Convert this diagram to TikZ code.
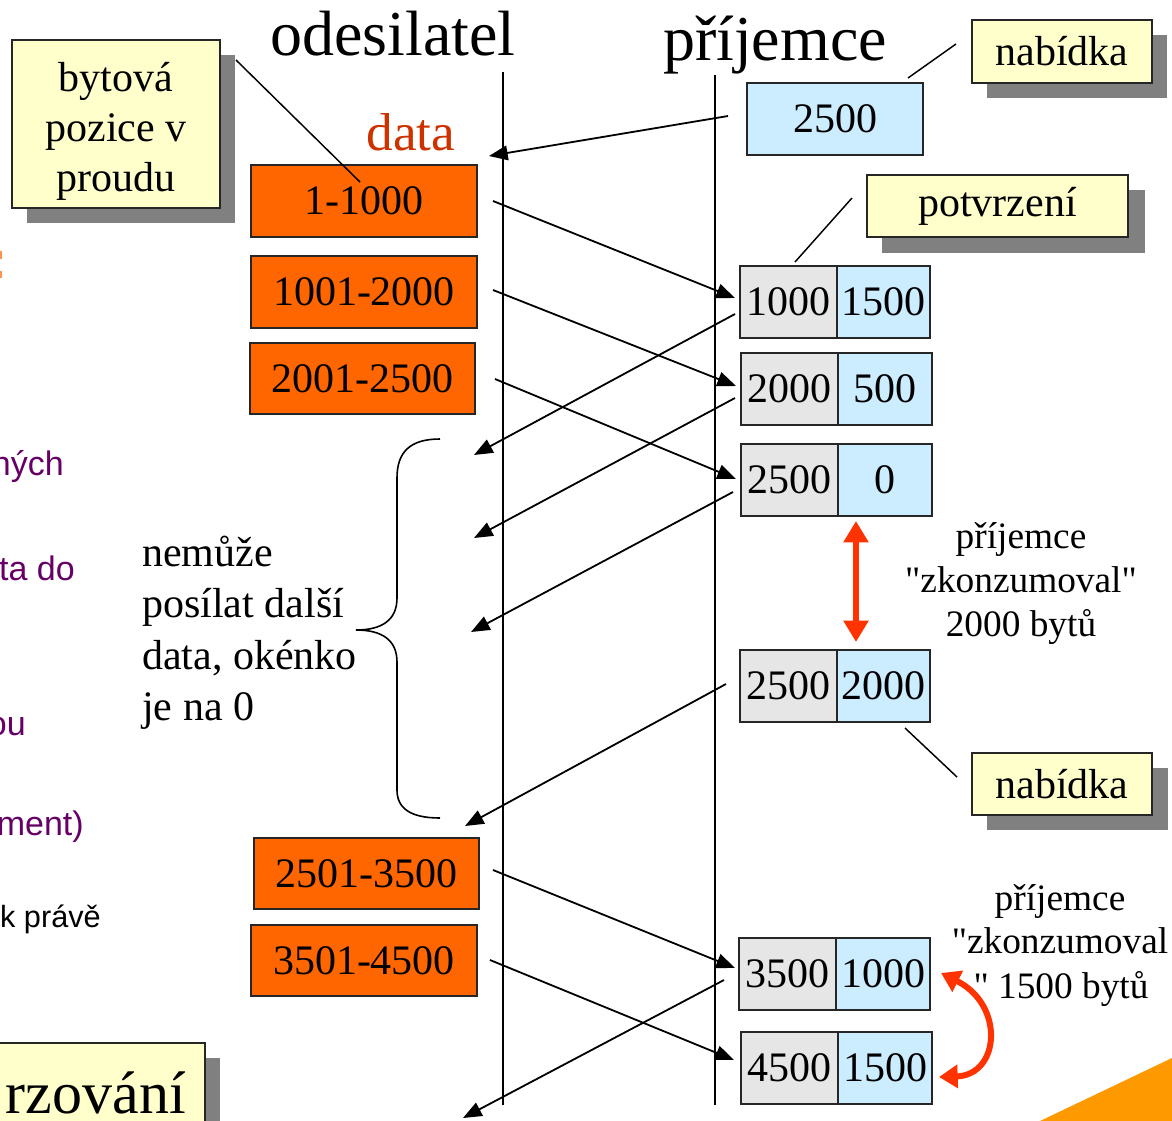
\documentclass[tikz,border=0pt]{standalone}
\usepackage{fontspec}
\setmainfont{Liberation Serif}[Ligatures=TeXOff]
\newfontfamily\sansf{Liberation Sans}
\usetikzlibrary{arrows.meta,fit,calc}

\definecolor{dataorange}{HTML}{FF6600}
\definecolor{datalabel}{HTML}{CC3300}
\definecolor{notebg}{HTML}{FFFFCC}
\definecolor{ackgray}{HTML}{E6E6E6}
\definecolor{ackblue}{HTML}{CCECFF}
\definecolor{shadowgray}{HTML}{808080}
\definecolor{hotred}{HTML}{FF3300}
\definecolor{plum}{HTML}{660066}
\definecolor{amber}{HTML}{FF9900}

\newcommand\mainsz{\fontsize{31.5pt}{37pt}\selectfont}
\newcommand\notesz{\fontsize{28pt}{33pt}\selectfont}
\newcommand\headsz{\fontsize{48pt}{56pt}\selectfont}

\begin{document}
\begin{tikzpicture}[x=0.75pt,y=-0.75pt,
  every label/.style={inner sep=0pt, font=\mainsz},
  box/.style 2 args={fit={#1}, inner sep=0pt, line width=1.4pt, draw=black!85,
     label={center:#2}},
  databox/.style 2 args={box={#1}{#2}, fill=dataorange},
  ackl/.style 2 args={box={#1}{#2}, fill=ackgray},
  ackr/.style 2 args={box={#1}{#2}, fill=ackblue},
  note/.style 2 args={box={#1}{#2}, fill=notebg},
  shadow/.style={fill=shadowgray, draw=none},
  life/.style={line width=1.6pt},
  msg/.style={line width=1.35pt, -{Triangle[length=14pt,width=11pt]}},
  lead/.style={line width=1.1pt},
  redarrow/.style={hotred, line width=#1,
     {Triangle[length=16pt,width=18pt]}-{Triangle[length=16pt,width=18pt]}},
  txt/.style={inner sep=0pt, font=\mainsz},
  ntxt/.style={inner sep=0pt, font=\notesz},
  side/.style={inner sep=0pt, anchor=base east, text=plum, font=\sansf\fontsize{25.5pt}{30pt}\selectfont}
]
\path[use as bounding box] (0,0) rectangle (1172,1121);
\clip (0,0) rectangle (1172,1121);

% ---- text of the surrounding slide, cut off at the left edge ----
\node[side] (s1) at (64,475) {ných};
\node[side] (s2) at (75,580) {ta do};
\node[side] (s3) at (26,735) {ou};
\node[side] (s4) at (84,835) {ment)};
\node[side, text=black, font=\sansf\fontsize{23pt}{27pt}\selectfont] (s5) at (101,927) {k právě};
\fill[dataorange!70] (0,251) rectangle (2,259);
\fill[dataorange!70] (0,271) rectangle (2,278);

% bottom-left title box and bottom-right corner
\path[shadow] (-40,1058) rectangle (220,1140);
\node[note={(-40,1043) (205,1140)}{}] (title) {};
\node[inner sep=0pt, anchor=base east, font=\fontsize{45pt}{50pt}\selectfont] (titletxt) at (186,1113) {rzování};
\fill[amber] (1040,1121) -- (1172,1058) -- (1172,1121) -- cycle;

% ---- headers and lifelines ----
\node[inner sep=0pt, anchor=base, font=\headsz] (hs) at (393,55) {odesilatel};
\node[inner sep=0pt, anchor=base, font=\headsz] (hr) at (775,60) {příjemce};
\coordinate (ls1) at (503,72);  \coordinate (ls2) at (503,1105);
\coordinate (lr1) at (715,75);  \coordinate (lr2) at (715,1105);
\draw[life] (ls1) -- (ls2);
\draw[life] (lr1) -- (lr2);

\node[inner sep=0pt, anchor=base, text=datalabel, font=\fontsize{40pt}{46pt}\selectfont] (datalbl) at (411,150) {data};

% ---- data segments at the sender ----
\node[databox={(251,165) (477,237)}{1-1000}] (b1) {};
\node[databox={(251,256) (477,328)}{1001-2000}] (b2) {};
\node[databox={(250,343) (475,414)}{2001-2500}] (b3) {};
\node[databox={(254,838) (479,909)}{2501-3500}] (b4) {};
\node[databox={(251,925) (477,996)}{3501-4500}] (b5) {};

% ---- window offer and acknowledgements at the receiver ----
\node[ackr={(747,83) (923,155)}{2500}] (w0) {};

\node[ackl={(740,266) (837,338)}{1000}] (k1) {};
\node[ackr={(837,266) (930,338)}{1500}] (n1) {};
\node[ackl={(741,353) (838,425)}{2000}] (k2) {};
\node[ackr={(838,353) (932,425)}{500}] (n2) {};
\node[ackl={(741,444) (838,516)}{2500}] (k3) {};
\node[ackr={(838,444) (932,516)}{0}] (n3) {};
\node[ackl={(740,650) (837,722)}{2500}] (k4) {};
\node[ackr={(837,650) (930,722)}{2000}] (n4) {};
\node[ackl={(739,938) (836,1010)}{3500}] (k5) {};
\node[ackr={(836,938) (930,1010)}{1000}] (n5) {};
\node[ackl={(741,1032) (838,1104)}{4500}] (k6) {};
\node[ackr={(838,1032) (932,1104)}{1500}] (n6) {};

% ---- yellow callouts with shadows ----
\path[shadow] (27,55) rectangle (235,223);
\node[note={(12,40) (220,208)}{}] (cpos) {};
\node[txt, anchor=base] (cpos1) at (116,91) {bytová};
\node[txt, anchor=base] (cpos2) at (116,141) {pozice v};
\node[txt, anchor=base] (cpos3) at (116,191) {proudu};

\path[shadow] (987,35) rectangle (1167,98);
\node[note={(972,20) (1152,83)}{nabídka}] (coffer) {};

\path[shadow] (882,190) rectangle (1145,253);
\node[note={(867,175) (1128,237)}{potvrzení}] (cack) {};

\path[shadow] (987,768) rectangle (1168,830);
\node[note={(972,753) (1152,815)}{nabídka}] (coffer2) {};

% callout leader lines
\coordinate (p1) at (236,60);  \coordinate (p2) at (360,182);
\coordinate (p3) at (908,78);  \coordinate (p4) at (956,44);
\coordinate (p5) at (852,198); \coordinate (p6) at (795,262);
\coordinate (p7) at (905,728); \coordinate (p8) at (957,777);
\draw[lead] (p1) -- (p2);
\draw[lead] (p3) -- (p4);
\draw[lead] (p5) -- (p6);
\draw[lead] (p7) -- (p8);

% ---- segments sent ----
\coordinate (d1s) at (493,201);  \coordinate (d1e) at (735,298);
\coordinate (d2s) at (493,290);  \coordinate (d2e) at (736,386);
\coordinate (d3s) at (495,379);  \coordinate (d3e) at (736,479);
\coordinate (d4s) at (493,870);  \coordinate (d4e) at (735,968);
\coordinate (d5s) at (490,960);  \coordinate (d5e) at (734,1060);
\draw[msg] (d1s) -- (d1e);
\draw[msg] (d2s) -- (d2e);
\draw[msg] (d3s) -- (d3e);
\draw[msg] (d4s) -- (d4e);
\draw[msg] (d5s) -- (d5e);

% ---- offers and acknowledgements returned ----
\coordinate (w0s) at (728,116);  \coordinate (w0e) at (489,156);
\coordinate (a1s) at (735,314);  \coordinate (a1e) at (474,455);
\coordinate (a2s) at (735,398);  \coordinate (a2e) at (474,538);
\coordinate (a3s) at (733,492);  \coordinate (a3e) at (471,632);
\coordinate (a4s) at (726,684);  \coordinate (a4e) at (465,826);
\coordinate (a5s) at (724,980);  \coordinate (a5e) at (463,1118);
\draw[msg] (w0s) -- (w0e);
\draw[msg] (a1s) -- (a1e);
\draw[msg] (a2s) -- (a2e);
\draw[msg] (a3s) -- (a3e);
\draw[msg] (a4s) -- (a4e);
\draw[msg] (a5s) -- (a5e);

% ---- blocked period ----
\draw[line width=1.2pt] (440,439) .. controls (410,439) and (397,452) .. (397,478)
  -- (397,598) .. controls (397,620) and (382,630) .. (356,630)
  .. controls (382,630) and (397,640) .. (397,662)
  -- (397,790) .. controls (397,808) and (410,818) .. (440,818);
\node[txt, anchor=base west] (bl1) at (142,566) {nemůže};
\node[txt, anchor=base west] (bl2) at (142,617) {posílat další};
\node[txt, anchor=base west] (bl3) at (142,669) {data, okénko};
\node[txt, anchor=base west] (bl4) at (142,720) {je na 0};

% ---- consumption by the receiver ----
\coordinate (r1) at (856,521); \coordinate (r2) at (856,642);
\draw[redarrow=5.2pt] (r1) -- (r2);
\node[ntxt, anchor=base] (c1a) at (1021,548) {příjemce};
\node[ntxt, anchor=base] (c1b) at (1021,592) {"zkonzumoval"};
\node[ntxt, anchor=base] (c1c) at (1021,636) {2000 bytů};

\coordinate (r3) at (941,973); \coordinate (r4) at (939,1077);
\draw[hotred, line width=4.5pt, {Triangle[length=14pt,width=17pt]}-{Triangle[length=14pt,width=17pt]}]
  (r3) .. controls (1005,1005) and (1000,1075) .. (r4);
\node[ntxt, anchor=base] (c2a) at (1060,910) {příjemce};
\node[ntxt, anchor=base] (c2b) at (1060,953) {"zkonzumoval};
\node[ntxt, anchor=base] (c2c) at (1061,998) {" 1500 bytů};
\end{tikzpicture}
\end{document}
